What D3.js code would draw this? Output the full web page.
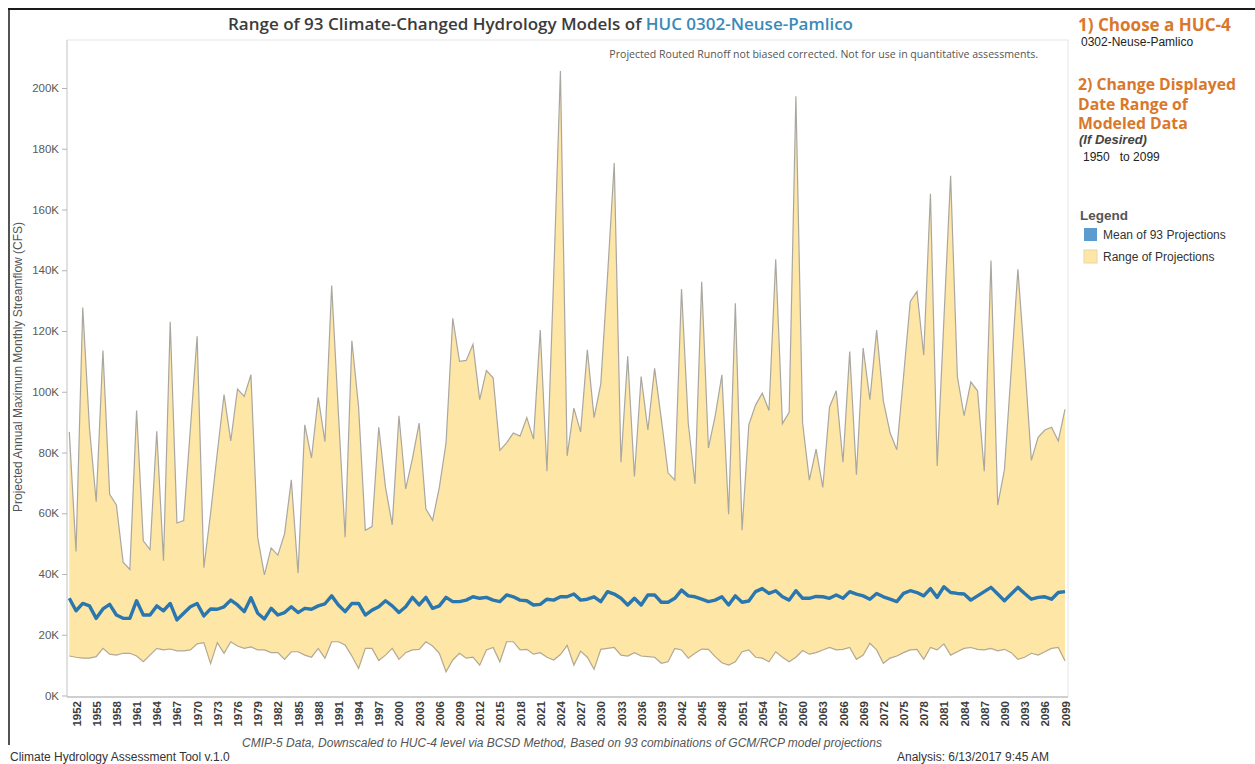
<!DOCTYPE html>
<html>
<head>
<meta charset="utf-8">
<script src="https://cdn.jsdelivr.net/npm/d3@7"></script>
<style>
  body { margin: 0; background: #fff; }
  svg { display: block; }
</style>
</head>
<body>
<svg id="chart" width="1255" height="764"></svg>
<script>
// Annual maximum monthly streamflow across 93 projections (thousands of CFS)
const years = d3.range(1951, 2100);

const maxFlowK = [
  86.8, 47.4, 127.7, 88, 63.8, 113.6, 66.2, 62.7, 43.9, 41.5,
  93.8, 50.9, 48, 87, 44.4, 123, 56.8, 57.6, 88, 118.3,
  42.1, 60, 80, 99.1, 83.8, 100.9, 98.5, 105.6, 52.1, 39.7,
  48.6, 46.2, 53.3, 71, 40.3, 89.1, 78.2, 98.2, 83.6, 135,
  93, 52.1, 116.8, 95, 54.4, 55.6, 88.3, 68.6, 56.2, 92.1,
  68, 78, 89.7, 61.5, 57.7, 68.5, 83.2, 124.2, 110, 110.3,
  115.6, 97.4, 107, 104.6, 80.7, 83.2, 86.4, 85.4, 91.5, 84.4,
  120.3, 73.8, 138, 205.6, 78.9, 94.6, 86.8, 113.8, 91.5, 102.6,
  138, 175.3, 76.8, 111.7, 72.1, 105, 87.4, 107.7, 91, 73.3,
  70.9, 133.8, 89.7, 69.7, 136.2, 81.5, 92, 105.6, 59.7, 129.1,
  54.4, 89.1, 95.6, 99.5, 93.8, 143.6, 89.5, 93.2, 197.3, 89.7,
  70.9, 81.1, 68.5, 95, 100.3, 76.8, 113.2, 72.7, 114.4, 97.4,
  120.3, 97, 86.5, 80.9, 105, 129.7, 133, 112.1, 165.2, 75.6,
  123.8, 171.1, 105, 92.1, 103.2, 100.3, 73.8, 143.2, 62.7, 74.4,
  107, 140.3, 110, 77.4, 85, 87.4, 88.3, 83.8, 94.2
];

const meanFlowK = [
  32.0, 27.9, 30.3, 29.5, 25.4, 28.5, 30.0, 26.5, 25.4, 25.4,
  31.2, 26.5, 26.5, 29.5, 27.9, 30.3, 24.9, 27.1, 29.2, 30.3,
  26.2, 28.5, 28.4, 29.2, 31.4, 29.8, 27.6, 32.2, 27.1, 25.2,
  28.7, 26.5, 27.3, 29.2, 27.3, 28.7, 28.4, 29.5, 30.2, 32.8,
  29.8, 27.6, 30.3, 30.3, 26.5, 28.1, 29.2, 31.2, 29.5, 27.3,
  29.2, 32.3, 29.8, 32.3, 28.7, 29.5, 32.3, 30.9, 30.9, 31.4,
  32.5, 32.0, 32.3, 31.4, 30.9, 33.1, 32.5, 31.4, 31.2, 29.8,
  30.0, 31.7, 31.4, 32.5, 32.5, 33.4, 31.4, 31.7, 32.5, 30.9,
  34.2, 33.4, 32.0, 29.8, 32.0, 29.8, 33.1, 33.1, 30.7, 30.7,
  32.0, 34.7, 32.8, 32.5, 31.7, 30.9, 31.4, 32.5, 29.8, 32.8,
  30.7, 31.1, 34.2, 35.2, 33.6, 34.5, 32.5, 31.4, 34.5, 32.0,
  32.0, 32.6, 32.5, 32.0, 33.1, 32.0, 34.2, 33.4, 32.8, 31.7,
  33.6, 32.5, 31.7, 30.9, 33.6, 34.5, 33.9, 32.8, 35.2, 32.3,
  35.8, 33.9, 33.6, 33.4, 31.4, 32.8, 34.2, 35.6, 33.4, 31.2,
  33.4, 35.6, 33.6, 31.7, 32.3, 32.5, 31.7, 33.9, 34.2
];

const minFlowK = [
  13.0, 12.6, 12.3, 12.3, 12.8, 15.5, 13.6, 13.3, 13.9, 13.9,
  13.0, 11.1, 13.3, 15.5, 15.0, 15.3, 14.7, 14.7, 15.0, 17.0,
  17.4, 10.5, 17.4, 13.9, 17.7, 16.3, 15.5, 16.0, 15.0, 15.0,
  14.1, 14.1, 11.9, 14.4, 14.4, 13.3, 12.6, 15.5, 12.3, 17.7,
  17.7, 16.6, 13.0, 8.9, 15.5, 15.5, 11.5, 13.3, 15.5, 11.9,
  14.1, 15.0, 15.2, 17.7, 16.3, 13.9, 7.8, 11.7, 13.9, 12.3,
  12.6, 10.0, 15.0, 15.8, 11.1, 17.7, 17.7, 15.0, 15.2, 13.6,
  14.1, 12.6, 11.7, 13.5, 16.5, 10.0, 14.6, 12.6, 8.6, 15.2,
  15.5, 15.8, 13.3, 13.0, 14.1, 13.0, 12.8, 12.6, 10.6, 11.1,
  15.5, 15.0, 12.3, 13.9, 15.3, 15.2, 12.8, 10.8, 10.0, 11.1,
  14.4, 15.0, 12.6, 12.3, 11.1, 14.4, 12.6, 11.1, 12.6, 14.8,
  13.6, 14.1, 15.0, 15.8, 15.0, 15.2, 15.8, 11.9, 13.3, 17.2,
  15.0, 10.6, 12.3, 13.0, 14.1, 15.0, 15.2, 11.9, 15.8, 15.0,
  17.0, 13.3, 14.4, 15.5, 15.8, 15.2, 15.0, 15.5, 14.7, 15.2,
  14.1, 11.9, 12.6, 13.9, 13.3, 14.4, 15.5, 15.8, 11.4
];

const yTicksK = d3.range(0, 201, 20);
const xTickYears = d3.range(1952, 2100, 3);

const rows = years.map((yr, i) => ({
  year: yr, max: maxFlowK[i], mean: meanFlowK[i], min: minFlowK[i]
}));

const svg = d3.select("#chart");
const W = 1255;

const SANS = "Liberation Sans, Arial, sans-serif";
const HEAD = "Open Sans, sans-serif";

// scale a text element's font size so it spans the given width
function fitWidth(sel, width) {
  const node = sel.node();
  const fs = parseFloat(sel.attr("font-size"));
  const w = node.getComputedTextLength();
  if (w > 0) sel.attr("font-size", (fs * width / w).toFixed(2));
  return sel;
}

// pane geometry
const pane = { left: 67, right: 1068, top: 40, bottom: 697 };

const x = d3.scaleLinear().domain([1951, 2099]).range([69.3, 1065]);
const y = d3.scaleLinear().domain([0, 200]).range([695.5, 88]);

// outer dashboard frame
svg.append("line").attr("x1", 8).attr("x2", W).attr("y1", 9).attr("y2", 9)
  .attr("stroke", "#1a1a1a").attr("stroke-width", 2);
svg.append("line").attr("x1", 9).attr("x2", 9).attr("y1", 9).attr("y2", 745)
  .attr("stroke", "#1a1a1a").attr("stroke-width", 1.5);

// pane border
svg.append("rect")
  .attr("x", pane.left).attr("y", pane.top)
  .attr("width", pane.right - pane.left).attr("height", pane.bottom - pane.top)
  .attr("fill", "none").attr("stroke", "#e6e6e6").attr("stroke-width", 1);

// range band
svg.append("path").datum(rows)
  .attr("fill", "#fde6a6")
  .attr("d", d3.area().x(d => x(d.year)).y0(d => y(d.min)).y1(d => y(d.max)));

svg.append("path").datum(rows)
  .attr("fill", "none").attr("stroke", "#aaa7a0").attr("stroke-width", 1.2)
  .attr("d", d3.line().x(d => x(d.year)).y(d => y(d.max)));

svg.append("path").datum(rows)
  .attr("fill", "none").attr("stroke", "#b3a892").attr("stroke-width", 1.2)
  .attr("d", d3.line().x(d => x(d.year)).y(d => y(d.min)));

// mean of projections
svg.append("path").datum(rows)
  .attr("fill", "none").attr("stroke", "#2a76ae").attr("stroke-width", 3.4)
  .attr("stroke-linejoin", "round")
  .attr("d", d3.line().x(d => x(d.year)).y(d => y(d.mean)));

// y axis
const yAxis = svg.append("g").attr("transform", `translate(${pane.left},0)`)
  .call(d3.axisLeft(y).tickValues(yTicksK).tickFormat(d => d + "K").tickSize(5).tickPadding(3));
yAxis.select(".domain").attr("stroke", "#cfcfcf").attr("d", `M0,${pane.top}V${pane.bottom}`);
yAxis.selectAll(".tick line").attr("stroke", "#b5b5b5");
yAxis.selectAll(".tick text")
  .attr("font-family", SANS).attr("font-size", 11.5).attr("fill", "#5a5a5a");

// x axis
const xAxis = svg.append("g").attr("transform", `translate(0,${pane.bottom})`)
  .call(d3.axisBottom(x).tickValues(xTickYears).tickFormat(d3.format("d")).tickSize(0));
xAxis.select(".domain").attr("stroke", "#cfcfcf").attr("stroke-width", 2)
  .attr("d", `M${pane.left},0H${pane.right}`);
xAxis.selectAll(".tick text")
  .attr("font-family", SANS)
  .attr("font-size", 11.5).attr("font-weight", "bold").attr("fill", "#3c3c3c")
  .attr("text-anchor", "end")
  .attr("transform", "rotate(-90)")
  .attr("x", -4).attr("y", 0).attr("dy", "0.35em");

// y axis title
svg.append("text")
  .attr("transform", `translate(22,367) rotate(-90)`)
  .attr("text-anchor", "middle")
  .attr("font-family", SANS).attr("font-size", 12).attr("fill", "#555")
  .text("Projected Annual Maximum Monthly Streamflow (CFS)");

// title
const title = svg.append("text")
  .attr("x", 540.5).attr("y", 30).attr("text-anchor", "middle")
  .attr("font-family", HEAD).attr("font-weight", 600)
  .attr("font-size", 15).attr("fill", "#3b3b3b");
title.append("tspan").text("Range of 93 Climate-Changed Hydrology Models of ");
title.append("tspan").attr("fill", "#3a8ab8").text("HUC 0302-Neuse-Pamlico");
fitWidth(title, 625);

// pane note
fitWidth(svg.append("text")
  .attr("x", 1038).attr("y", 58).attr("text-anchor", "end")
  .attr("font-family", HEAD).attr("font-size", 9.5).attr("fill", "#555")
  .text("Projected Routed Runoff not biased corrected.  Not for use in quantitative assessments."), 429);

// footer
svg.append("text")
  .attr("x", 562).attr("y", 747).attr("text-anchor", "middle")
  .attr("font-family", SANS).attr("font-size", 12).attr("font-style", "italic").attr("fill", "#555")
  .text("CMIP-5 Data, Downscaled to HUC-4 level via BCSD Method, Based on 93 combinations of GCM/RCP model projections");
svg.append("text")
  .attr("x", 10).attr("y", 761)
  .attr("font-family", SANS).attr("font-size", 12).attr("fill", "#333")
  .text("Climate Hydrology Assessment Tool v.1.0");
svg.append("text")
  .attr("x", 897).attr("y", 761)
  .attr("font-family", SANS).attr("font-size", 12).attr("fill", "#333")
  .text("Analysis: 6/13/2017 9:45 AM");

// side panel
const orange = "#d9782b";
const side = svg.append("g");
const head1 = fitWidth(side.append("text").attr("x", 1078).attr("y", 31)
  .attr("font-family", HEAD).attr("font-size", 15).attr("font-weight", 700).attr("fill", orange)
  .text("1) Choose a HUC-4"), 153);
side.append("text").attr("x", 1081).attr("y", 46)
  .attr("font-family", SANS).attr("font-size", 12).attr("fill", "#222")
  .text("0302-Neuse-Pamlico");

// step 2 heading: one size for all three lines, set by the first
const stepLines = ["2) Change Displayed", "Date Range of", "Modeled Data"];
const stepEls = stepLines.map((t, i) => side.append("text")
  .attr("x", 1078).attr("y", 90 + i * 19.5)
  .attr("font-family", HEAD).attr("font-size", 15).attr("font-weight", 700)
  .attr("fill", orange).text(t));
fitWidth(stepEls[0], 158);
stepEls.forEach(el => el.attr("font-size", stepEls[0].attr("font-size")));

side.append("text").attr("x", 1079).attr("y", 144)
  .attr("font-family", SANS).attr("font-size", 13).attr("font-weight", "bold")
  .attr("font-style", "italic").attr("fill", "#444").text("(If Desired)");
side.append("text").attr("x", 1083).attr("y", 161)
  .attr("font-family", SANS).attr("font-size", 12).attr("fill", "#222")
  .attr("xml:space", "preserve").text("1950   to 2099");

side.append("text").attr("x", 1080).attr("y", 220)
  .attr("font-family", SANS).attr("font-size", 13.5).attr("font-weight", "bold").attr("fill", "#555")
  .text("Legend");
const legendItems = [
  { label: "Mean of 93 Projections", color: "#5b9bd0" },
  { label: "Range of Projections", color: "#fde6a6" }
];
legendItems.forEach((d, i) => {
  const gy = 228 + i * 22;
  side.append("rect").attr("x", 1084).attr("y", gy).attr("width", 13).attr("height", 13)
    .attr("fill", d.color).attr("stroke", i ? "#e6d7a8" : "none");
  side.append("text").attr("x", 1103).attr("y", gy + 10.5)
    .attr("font-family", SANS).attr("font-size", 12).attr("fill", "#333").text(d.label);
});
</script>
</body>
</html>
